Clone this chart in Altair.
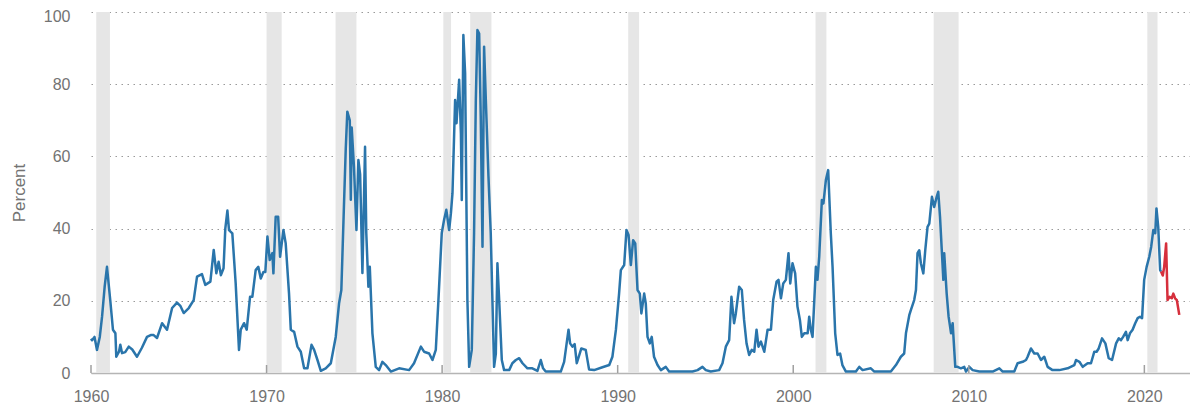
import altair as alt
import pandas as pd

# ---- data ----
blue_years = [
    1960.0, 1960.06, 1960.2, 1960.34, 1960.5, 1960.63, 1960.78, 1960.91, 1961.1, 1961.25,
    1961.39, 1961.44, 1961.6, 1961.67, 1961.77, 1961.95, 1962.15, 1962.35, 1962.62, 1962.9,
    1963.19, 1963.4, 1963.57, 1963.76, 1964.05, 1964.33, 1964.62, 1964.9, 1965.1, 1965.28,
    1965.57, 1965.85, 1966.04, 1966.32, 1966.51, 1966.8, 1966.99, 1967.14, 1967.27, 1967.4,
    1967.55, 1967.65, 1967.77, 1967.86, 1968.05, 1968.24, 1968.43, 1968.53, 1968.72, 1968.87,
    1969.06, 1969.19, 1969.38, 1969.53, 1969.67, 1969.82, 1969.93, 1970.05, 1970.18, 1970.33,
    1970.39, 1970.52, 1970.66, 1970.77, 1970.96, 1971.09, 1971.28, 1971.38, 1971.57, 1971.76,
    1971.95, 1972.14, 1972.33, 1972.56, 1972.71, 1972.9, 1973.09, 1973.37, 1973.66, 1973.94,
    1974.13, 1974.26, 1974.4, 1974.51, 1974.6, 1974.74, 1974.8, 1974.85, 1974.98, 1975.12,
    1975.23, 1975.33, 1975.46, 1975.61, 1975.68, 1975.8, 1975.88, 1976.03, 1976.22, 1976.41,
    1976.6, 1976.79, 1977.08, 1977.55, 1978.12, 1978.4, 1978.79, 1978.97, 1979.26, 1979.45,
    1979.64, 1979.79, 1979.98, 1980.11, 1980.24, 1980.4, 1980.5, 1980.59, 1980.74, 1980.82,
    1980.97, 1981.07, 1981.12, 1981.21, 1981.31, 1981.44, 1981.54, 1981.69, 1981.82, 1981.92,
    1982.01, 1982.11, 1982.2, 1982.3, 1982.39, 1982.49, 1982.64, 1982.77, 1982.96, 1983.06,
    1983.15, 1983.25, 1983.4, 1983.53, 1983.82, 1984.0, 1984.2, 1984.39, 1984.58, 1984.86,
    1985.14, 1985.43, 1985.62, 1985.75, 1985.9, 1986.76, 1986.95, 1987.2, 1987.29, 1987.42,
    1987.55, 1987.67, 1987.93, 1988.18, 1988.37, 1988.66, 1989.13, 1989.52, 1989.7, 1989.9,
    1990.08, 1990.18, 1990.37, 1990.5, 1990.62, 1990.75, 1990.88, 1991.0, 1991.13, 1991.26,
    1991.35, 1991.51, 1991.6, 1991.7, 1991.83, 1991.94, 1992.07, 1992.27, 1992.46, 1992.74,
    1992.93, 1994.26, 1994.55, 1994.83, 1995.02, 1995.3, 1995.78, 1995.97, 1996.16, 1996.35,
    1996.48, 1996.63, 1996.73, 1996.92, 1997.07, 1997.2, 1997.34, 1997.49, 1997.64, 1997.78,
    1997.91, 1998.02, 1998.16, 1998.35, 1998.54, 1998.73, 1998.86, 1999.05, 1999.16, 1999.3,
    1999.43, 1999.58, 1999.73, 1999.83, 1999.96, 2000.11, 2000.24, 2000.38, 2000.49, 2000.63,
    2000.82, 2000.91, 2001.0, 2001.1, 2001.2, 2001.29, 2001.38, 2001.48, 2001.63, 2001.72,
    2001.86, 2001.99, 2002.14, 2002.24, 2002.39, 2002.52, 2002.67, 2002.8, 2003.0, 2003.57,
    2003.76, 2003.95, 2004.42, 2004.62, 2005.19, 2005.56, 2005.85, 2006.13, 2006.32, 2006.42,
    2006.61, 2006.7, 2006.89, 2006.99, 2007.08, 2007.18, 2007.27, 2007.41, 2007.52, 2007.65,
    2007.75, 2007.9, 2008.03, 2008.17, 2008.26, 2008.36, 2008.47, 2008.55, 2008.6, 2008.74,
    2008.85, 2008.99, 2009.08, 2009.23, 2009.36, 2009.55, 2009.74, 2009.84, 2010.03, 2010.22,
    2010.6, 2011.36, 2011.74, 2011.93, 2012.59, 2012.78, 2013.07, 2013.26, 2013.35, 2013.54,
    2013.73, 2013.92, 2014.11, 2014.3, 2014.49, 2014.77, 2015.16, 2015.63, 2016.01, 2016.11,
    2016.3, 2016.49, 2016.77, 2016.96, 2017.15, 2017.28, 2017.4, 2017.59, 2017.78, 2017.97,
    2018.16, 2018.39, 2018.54, 2018.67, 2018.79, 2018.95, 2019.05, 2019.18, 2019.33, 2019.48,
    2019.62, 2019.75, 2019.87, 2019.99, 2020.13, 2020.28, 2020.39, 2020.51, 2020.62, 2020.69,
    2020.79, 2020.9, 2020.95,
]
blue_values = [
    9.5, 9.1, 10, 6.4, 10, 15.6, 24, 29.4, 20, 12,
    11, 4.5, 6, 7.8, 5.5, 5.8, 7.3, 6.5, 4.5, 7,
    10, 10.5, 10.5, 9.7, 13.8, 12, 18, 19.5, 18.5, 16.6,
    18, 20.2, 26.7, 27.4, 24.4, 25.3, 34.1, 27.6, 30.8, 27.1,
    29, 40, 45, 39.6, 38.7, 24.9, 6.4, 12, 13.8, 12,
    21.1, 21.1, 28.5, 29.4, 26.2, 28, 28, 37.8, 31.3, 33.2,
    27.6, 43.3, 43.3, 32.2, 39.6, 35.9, 22, 12, 11.4, 7.3,
    5.9, 1.3, 1.3, 7.8, 6.4, 3.6, 0.6, 1.3, 2.7, 10,
    19.3, 23, 45, 62, 72.4, 70, 48, 68, 57, 39.6,
    59, 55, 27.7, 62.7, 38.8, 23.9, 29.4, 11, 1.7, 0.8,
    3.1, 2.2, 0.4, 1.3, 0.8, 2.7, 7.3, 5.9, 5.4, 3.6,
    6.4, 20.2, 38.8, 42.4, 45.2, 39.6, 44.2, 49.8, 75.6, 69.2,
    81.2, 66.4, 47.9, 93.6, 83, 20.2, 1.7, 6.4, 38.7, 75.6,
    95, 94, 71, 35, 90.4, 75.6, 54.4, 38.7, 1.7, 5.4,
    30.4, 20.2, 3.6, 0.8, 0.8, 2.7, 3.6, 4.1, 2.7, 1.3,
    1.3, 0.6, 3.6, 1.3, 0.4, 0.4, 3.1, 12, 8.2, 7.3,
    8, 2.7, 6.8, 6.4, 1, 0.8, 1.6, 2.2, 4.5, 12,
    22, 28.5, 29.9, 39.6, 38.2, 29.9, 36.8, 35.9, 23, 22,
    16.5, 22, 19.3, 10, 8.2, 10, 4.5, 2.2, 0.8, 1.7,
    0.4, 0.4, 0.8, 1.7, 0.8, 0.4, 0.8, 2.7, 7.3, 9.1,
    21.1, 13.8, 16.5, 23.9, 23, 14.7, 8.2, 5, 6.4, 5.9,
    12, 7.3, 8.7, 5.9, 12, 12, 20.2, 25.3, 25.8, 20.7,
    24.8, 25.8, 33.2, 24.8, 30.4, 27.6, 18.4, 14.7, 10, 11,
    11, 15.6, 12, 10, 20.2, 29.4, 25.8, 32.2, 47.9, 47,
    53.5, 56.2, 38.7, 29.4, 11, 5, 5.4, 2.2, 0.4, 0.4,
    1.7, 0.8, 1.3, 0.4, 0.4, 0.4, 2.2, 4.5, 5.4, 11,
    16, 17.4, 20.2, 23, 33.2, 34, 30.4, 27.6, 34, 40.5,
    41.4, 48.8, 46, 48.8, 50.2, 43.3, 33.2, 25.8, 33.2, 22,
    15.6, 11, 13.8, 1.7, 1.7, 1.3, 1.7, 0.4, 1.7, 0.8,
    0.4, 0.4, 1.3, 0.4, 0.4, 2.7, 3.1, 3.6, 4.5, 6.8,
    5.4, 5.4, 3.6, 4.5, 1.7, 0.8, 0.8, 1.3, 2.2, 3.6,
    3.1, 1.7, 2.7, 2.7, 5.9, 5.9, 6.8, 9.6, 8.2, 4.1,
    3.6, 8.2, 9.6, 9.1, 10, 11.4, 9.1, 11, 12, 13.8,
    15.2, 15.6, 15.2, 25.8, 29.4, 32.2, 35, 39.6, 38.7, 45.6,
    40.5, 28.5, 28.1,
]

red_years = [2020.95, 2021.05, 2021.13, 2021.24, 2021.32, 2021.43, 2021.56, 2021.65, 2021.75, 2021.85, 2021.99]
red_values = [28.1, 27, 29.4, 35.9, 20.2, 21.1, 20.7, 22, 20.7, 20.2, 16.1]

recession_start = [1960.3, 1970.0, 1973.93, 1980.07, 1981.6, 1990.6, 2001.27, 2008.0, 2020.17]
recession_end = [1961.08, 1970.86, 1975.12, 1980.51, 1982.81, 1991.22, 2001.89, 2009.42, 2020.75]

tick_years = [1960, 1970, 1980, 1990, 2000, 2010, 2020]
y_ticks = [0, 20, 40, 60, 80, 100]

W, H = 1099, 361
X_DOMAIN = [1960, 2022.6]
FONT = "Liberation Sans"
TXT = "#737373"

blue_df = pd.DataFrame({"year": blue_years, "value": blue_values})
red_df = pd.DataFrame({"year": red_years, "value": red_values})
rec_df = pd.DataFrame({"start": recession_start, "end": recession_end})
tick_df = pd.DataFrame({"year": tick_years})

xscale = alt.Scale(domain=X_DOMAIN, nice=False, zero=False)
yscale = alt.Scale(domain=[0, 100], nice=False)

bands = alt.Chart(rec_df).mark_rect(color="#e6e6e6").encode(
    x=alt.X("start:Q", scale=xscale,
            axis=alt.Axis(values=tick_years, format="d", title=None, ticks=False, grid=False,
                          domainColor="#b5b5b5", domainWidth=1.5, labelColor=TXT,
                          labelFontSize=16, labelFont=FONT, labelPadding=15,
                          labelFlush=False)),
    x2="end:Q",
    y=alt.value(0),
    y2=alt.value(H),
)

blue = alt.Chart(blue_df).mark_line(color="#2a75ab", strokeWidth=2.5, strokeJoin="round").encode(
    x=alt.X("year:Q", scale=xscale),
    y=alt.Y("value:Q", scale=yscale,
            axis=alt.Axis(values=y_ticks, title="Percent", titleColor=TXT, titleFont=FONT,
                          titleFontSize=17, titleFontWeight="normal", titlePadding=15,
                          labelColor=TXT, labelFontSize=16, labelFont=FONT, labelPadding=21,
                          labelBaseline={"condition": {"test": "datum.value == 100", "value": "top"},
                                         "value": "middle"},
                          labelOffset={"condition": {"test": "datum.value == 100", "value": -4},
                                       "value": 0},
                          labelFlush=False,
                          ticks=False, domain=False, grid=True, gridColor="#9a9a9a",
                          gridDash=[1.5, 4.5], gridWidth=1.2)),
)

red = alt.Chart(red_df).mark_line(color="#d62f3c", strokeWidth=2.5, strokeJoin="round").encode(
    x=alt.X("year:Q", scale=xscale),
    y=alt.Y("value:Q", scale=yscale),
)

ticks = alt.Chart(tick_df).mark_rule(color="#a0a0a0", strokeWidth=1.5).encode(
    x=alt.X("year:Q", scale=xscale),
    y=alt.value(H - 8),
    y2=alt.value(H),
)

chart = alt.layer(bands, blue, red, ticks).properties(
    width=W, height=H,
    autosize=alt.AutoSizeParams(type="none"),
    padding={"left": 83, "top": 4, "right": 0, "bottom": 33},
).configure_view(stroke=None)

chart.save("out.html", embed_options={"renderer": "svg", "actions": False})
